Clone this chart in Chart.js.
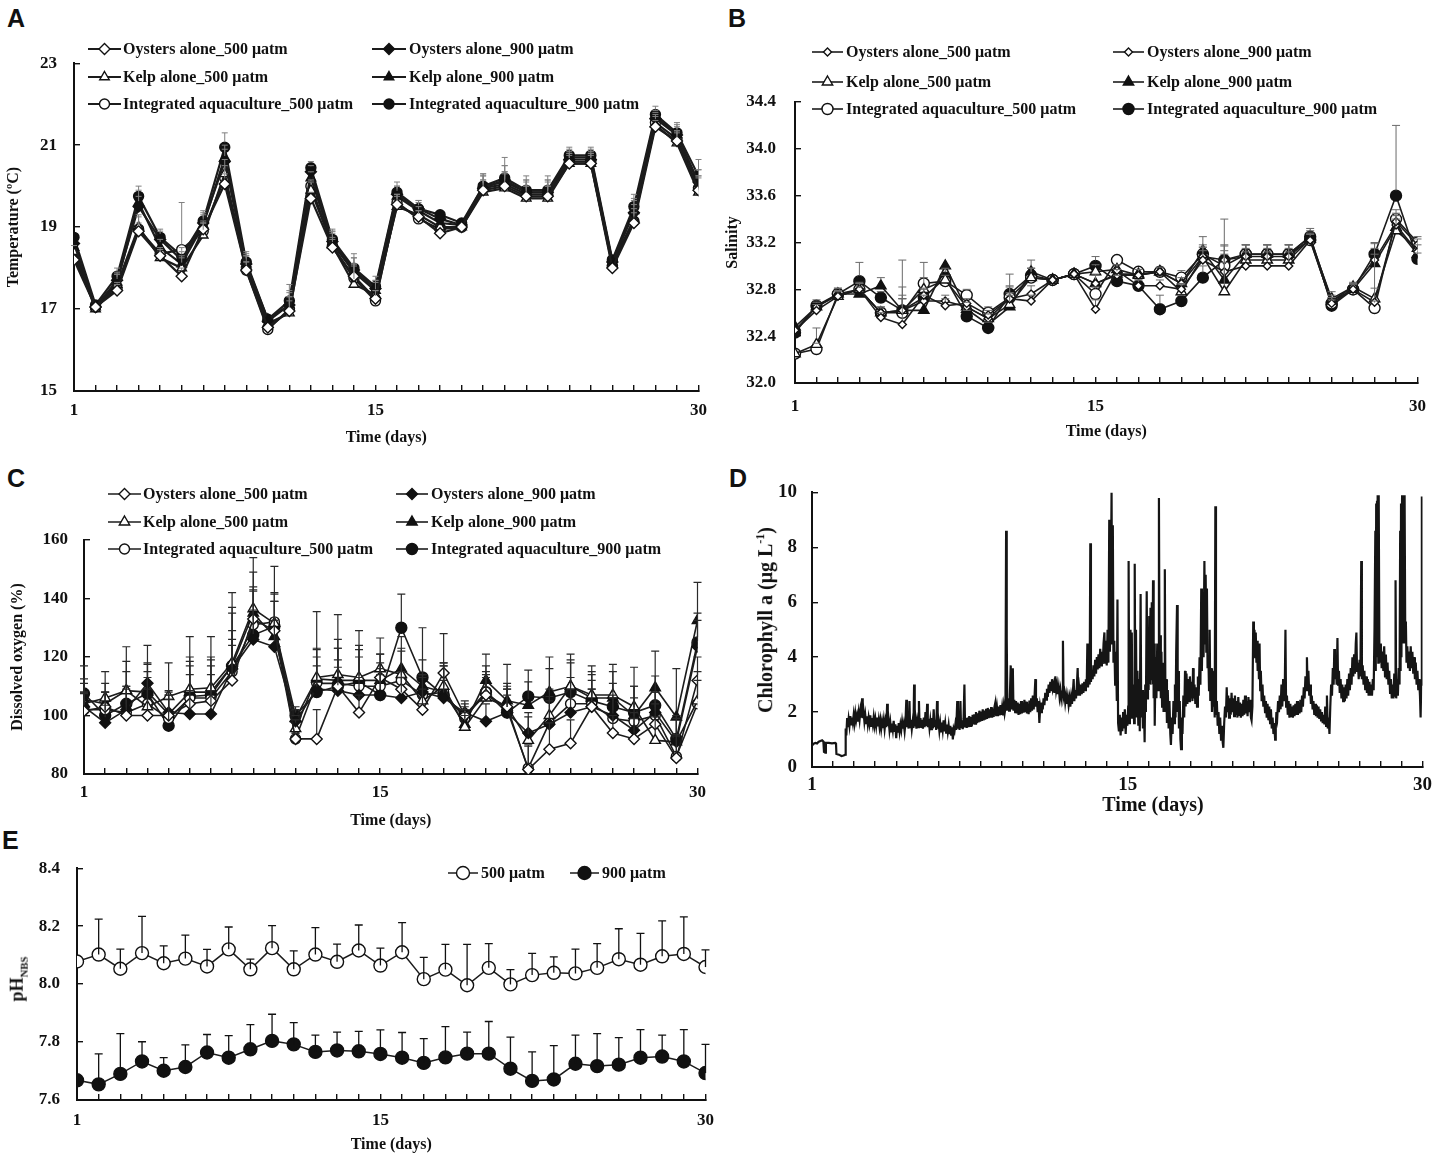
<!DOCTYPE html>
<html>
<head>
<meta charset="utf-8">
<script src="https://cdn.jsdelivr.net/npm/chart.js@4.4.1/dist/chart.umd.min.js"></script>
<style>
  body { margin: 0; width: 1445px; height: 1155px; background: #fff; position: relative; overflow: hidden; }
  canvas { position: absolute; }
  .tag { position: absolute; font: bold 25px "Liberation Sans", Arial, sans-serif; color: #111; }
  .ttl { position: absolute; font-family: "Liberation Serif", serif; font-weight: bold; color: #111; white-space: nowrap;
         transform: translate(-50%, -50%); }
  .rot { transform: translate(-50%, -50%) rotate(-90deg); }
  sub { font-size: 60%; }
  sup { font-size: 60%; }
</style>
</head>
<body>
<div class="tag" style="left:7px;top:4px">A</div>
<div class="tag" style="left:728px;top:4px">B</div>
<div class="tag" style="left:7px;top:464px">C</div>
<div class="tag" style="left:729px;top:464px">D</div>
<div class="tag" style="left:2px;top:826px">E</div>

<canvas id="chartA" width="722" height="420" style="left:0;top:30px"></canvas>
<canvas id="chartB" width="723" height="420" style="left:722px;top:30px"></canvas>
<canvas id="chartC" width="720" height="355" style="left:0;top:480px"></canvas>
<canvas id="chartD" width="705" height="365" style="left:740px;top:460px"></canvas>
<canvas id="chartE" width="730" height="320" style="left:0;top:835px"></canvas>

<div class="ttl rot" style="left:765px;top:620px;font-size:20px">Chlorophyll a (μg L<sup>-1</sup>)</div>
<div class="ttl" style="left:1153px;top:804px;font-size:20px">Time (days)</div>
<div class="ttl rot" style="left:18px;top:979px;font-size:18px">pH<sub>NBS</sub></div>

<script>
// ---- data ----
const days = [1,2,3,4,5,6,7,8,9,10,11,12,13,14,15,16,17,18,19,20,21,22,23,24,25,26,27,28,29,30];
const dayTickShown = [1, 15, 30];

const seriesNames = ["Oysters alone_500 μatm", "Oysters alone_900 μatm", "Kelp alone_500 μatm",
  "Kelp alone_900 μatm", "Integrated aquaculture_500 μatm", "Integrated aquaculture_900 μatm"];
const phNames = ["500 μatm", "900 μatm"];

// A - temperature (ºC)
const tempO500 = [18.2,17.05,17.45,18.9,18.3,17.8,18.95,20.05,17.95,16.55,16.95,19.7,18.5,17.8,17.25,19.55,19.25,18.85,19.0,19.9,20.0,19.75,19.75,20.55,20.55,18.0,19.1,21.45,21.1,19.9];
const tempO900 = [18.6,17.05,17.7,19.5,18.7,18.2,19.1,20.6,18.1,16.7,17.1,20.35,18.65,17.95,17.5,19.8,19.45,19.2,19.05,19.95,20.15,19.85,19.85,20.65,20.65,18.15,19.35,21.65,21.25,20.1];
const tempK500 = [18.4,17.0,17.6,19.0,18.25,18.0,18.8,20.3,18.0,16.65,16.9,19.9,18.55,17.6,17.35,19.5,19.3,19.0,19.0,19.85,19.95,19.7,19.7,20.55,20.55,18.1,19.2,21.5,21.05,19.85];
const tempK900 = [18.5,17.05,17.65,19.6,18.5,18.1,19.05,20.7,18.1,16.75,17.1,20.2,18.6,17.9,17.45,19.75,19.4,19.1,19.05,20.0,20.1,19.85,19.85,20.7,20.7,18.15,19.4,21.7,21.25,20.05];
const tempI500 = [18.3,17.05,17.5,18.95,18.35,18.45,18.9,20.2,17.95,16.5,17.0,20.0,18.55,17.75,17.2,19.6,19.2,18.95,19.0,19.95,20.05,19.8,19.8,20.6,20.6,18.05,19.15,21.55,21.15,19.95];
const tempI900 = [18.75,17.1,17.8,19.75,18.75,18.3,19.15,20.95,18.15,16.75,17.2,20.45,18.7,18.0,17.55,19.85,19.45,19.3,19.1,20.0,20.2,19.9,19.9,20.75,20.75,18.2,19.5,21.75,21.3,20.25];
const tempErrO500 = [0.1,0.05,0.15,0.2,0.15,0.2,0.2,0.25,0.2,0.1,0.25,0.15,0.2,0.3,0.2,0.2,0.15,0.1,0.1,0.25,0.3,0.25,0.25,0.2,0.2,0.1,0.25,0.15,0.2,0.3];
const tempErrO900 = [0.1,0.05,0.2,0.25,0.2,0.2,0.25,0.3,0.2,0.1,0.3,0.15,0.25,0.3,0.2,0.2,0.2,0.1,0.1,0.3,0.35,0.3,0.3,0.2,0.2,0.1,0.3,0.15,0.2,0.3];
const tempErrK500 = [0.15,0.05,0.25,0.3,0.2,0.25,0.3,0.35,0.3,0.1,0.4,0.2,0.3,0.5,0.3,0.3,0.2,0.1,0.1,0.3,0.4,0.3,0.3,0.25,0.25,0.1,0.35,0.2,0.3,0.4];
const tempErrK900 = [0.1,0.05,0.2,0.3,0.2,0.2,0.25,0.3,0.25,0.1,0.35,0.15,0.3,0.35,0.25,0.25,0.2,0.1,0.1,0.3,0.4,0.3,0.3,0.2,0.2,0.1,0.3,0.15,0.25,0.35];
const tempErrI500 = [0.1,0.05,0.15,0.3,0.15,1.15,0.2,0.3,0.2,0.1,0.3,0.15,0.2,0.3,0.25,0.2,0.2,0.1,0.1,0.3,0.3,0.3,0.3,0.2,0.2,0.1,0.3,0.2,0.2,0.3];
const tempErrI900 = [0.1,0.05,0.2,0.25,0.2,0.2,0.25,0.35,0.25,0.1,0.4,0.15,0.25,0.35,0.25,0.25,0.2,0.1,0.1,0.3,0.5,0.35,0.35,0.2,0.2,0.1,0.3,0.2,0.25,0.4];

// B - salinity
const salO500 = [32.45,32.62,32.74,32.80,32.56,32.50,32.75,32.66,32.68,32.58,32.72,32.70,32.88,32.93,32.63,32.96,32.83,32.83,32.80,33.05,32.95,33.00,33.00,33.00,33.22,32.68,32.80,32.69,33.38,33.18];
const salO900 = [32.45,32.65,32.75,32.80,32.60,32.62,32.70,32.70,32.65,32.55,32.72,32.76,32.88,32.93,32.85,32.92,32.92,32.95,32.85,33.08,33.05,33.08,33.08,33.08,33.23,32.70,32.82,33.05,33.35,33.12];
const salK500 = [32.25,32.33,32.74,32.80,32.60,32.62,32.80,32.88,32.65,32.55,32.67,32.90,32.88,32.93,32.95,32.97,32.92,32.95,32.78,33.08,32.78,33.05,33.05,33.05,33.23,32.72,32.82,32.72,33.30,33.15];
const salK900 = [32.48,32.65,32.76,32.76,32.83,32.62,32.62,33.00,32.63,32.50,32.65,32.95,32.88,32.93,32.85,32.93,32.93,32.95,32.85,33.13,32.88,33.10,33.10,33.10,33.25,32.70,32.80,33.02,33.33,33.10];
const salI500 = [32.25,32.29,32.76,32.80,32.60,32.60,32.85,32.87,32.75,32.60,32.73,32.90,32.88,32.93,32.76,33.05,32.95,32.95,32.90,33.10,33.00,33.10,33.10,33.10,33.22,32.68,32.80,32.64,33.40,33.20];
const salI900 = [32.43,32.66,32.76,32.87,32.73,32.62,32.73,32.90,32.57,32.47,32.76,32.92,32.88,32.93,33.00,32.87,32.83,32.63,32.70,32.90,33.05,33.10,33.10,33.10,33.25,32.66,32.80,33.10,33.60,33.06];
const salErrO500 = [0.03,0.05,0.04,0.05,0.04,0.55,0.05,0.06,0.04,0.04,0.05,0.05,0.03,0.03,0.08,0.05,0.05,0.05,0.05,0.08,0.08,0.12,0.12,0.12,0.05,0.05,0.04,0.12,0.05,0.05];
const salErrO900 = [0.03,0.04,0.04,0.05,0.05,0.1,0.05,0.05,0.04,0.04,0.05,0.07,0.03,0.03,0.07,0.05,0.05,0.04,0.05,0.08,0.08,0.1,0.1,0.1,0.05,0.05,0.04,0.1,0.08,0.06];
const salErrK500 = [0.03,0.14,0.05,0.05,0.05,0.2,0.1,0.05,0.05,0.04,0.08,0.08,0.03,0.03,0.06,0.05,0.05,0.04,0.06,0.08,0.62,0.1,0.1,0.1,0.05,0.06,0.04,0.47,0.1,0.05];
const salErrK900 = [0.03,0.05,0.05,0.06,0.07,0.1,0.05,0.05,0.04,0.04,0.28,0.1,0.03,0.03,0.08,0.05,0.05,0.04,0.05,0.12,0.3,0.08,0.08,0.08,0.07,0.05,0.05,0.08,0.12,0.05];
const salErrI500 = [0.03,0.05,0.05,0.06,0.05,0.15,0.18,0.05,0.05,0.05,0.1,0.08,0.03,0.03,0.06,0.04,0.04,0.04,0.06,0.08,0.1,0.08,0.08,0.08,0.05,0.05,0.05,0.06,0.08,0.05];
const salErrI900 = [0.03,0.05,0.05,0.16,0.05,0.1,0.08,0.08,0.05,0.05,0.06,0.06,0.03,0.03,0.08,0.05,0.05,0.12,0.05,0.1,0.12,0.08,0.08,0.08,0.05,0.05,0.05,0.1,0.6,0.05];

// C - dissolved oxygen (%)
const doO500 = [101.5,103,100,100,100,104,105,112,133,129,92,92,110,101,113,109,102,114.5,100,107,103,81.5,88.5,90.5,103,94,92,97,85.5,112];
const doO900 = [103,97.5,102,111,101,100.5,100.5,116,126,123.5,98,109,108.5,107,107,106,108,106,101,98,101,94,97,101,103,100,95,101,91,123.5];
const doK500 = [104,106,108.5,103,106.5,109,109.5,118,136.5,131.5,95.5,113,114,113,116,114,105,110,96,106,103,91.5,100,110,107,107,103,91.5,91,105];
const doK900 = [105.5,104,108.5,108,100.5,108,108,117,135,127,99,112.5,112,112,112,116,110,108,97,112,105,103.5,108,110,106,106,100,109.5,99.5,132.5];
const doI500 = [102,102,101,104,99,106,106,115,131,132,92,111,111,110,110,112,107,108,99,108,102,82,97.5,104,104,99,98,100,86,104];
const doI900 = [107.5,100,104,107.5,96.5,106.5,107,117,127.5,130.5,100,108,110,111.5,107,130,113,107,100,108,101,106.5,106,108,105,103,101,103.5,92,125];
const doErrO500 = [6,5,9,9,7,10,9,12,11,10,2,10,9,6,8,6,7,13.5,3,6,6,8,9,8,6,6,7,7,8,8];
const doErrO900 = [5,6,8,13,7,8,8,10,10,9,2,8,8,6,7,7,6,6,3,6,6,7,8,8,6,6,6,7,8,9];
const doErrK500 = [7,9,10,12,11.5,18,17.5,24,17.5,19.5,3,22.5,20.5,16,10.5,9,8,8,4,8,7,8,9,9,10,10.5,13.5,8,9,10];
const doErrK900 = [7,7,15,10,8,12,12,20,14,12,3,10,14,12,9,11,9,10,4,9,12.5,8,12,11,9,9,10,12.5,16.5,13];
const doErrI500 = [6,6,9,9,8,11,11,14,12,10,2,12,12,10,8,10,7,9,3,7,7,8,9,9,8,8,8,8,7,8];
const doErrI900 = [9.5,8,11,10,9,12,12,18,15,11,3,12,13,11,9,11.5,17,10,5,9,10,9,10,10,9,8,9,10,8,10];

// D - chlorophyll a trace [day, µg/L]; tick labels as printed under the axis
const chlTickPos = [1, 16, 30];
const chlTickText = ["1", "15", "30"];
const chlTrace = [
[1.00,0.78],[1.08,0.85],[1.16,0.88],[1.24,0.86],[1.32,0.92],[1.40,0.95],[1.48,0.97],[1.54,0.93],[1.57,0.55],[1.63,0.52],[1.66,0.88],[1.80,0.88],[1.95,0.86],[2.10,0.88],[2.14,0.85],[2.16,0.48],[2.28,0.45],[2.40,0.40],[2.50,0.42],[2.58,0.45],
[2.60,1.40],[2.63,1.15],[2.67,1.78],[2.70,1.45],[2.74,1.75],[2.78,1.50],[2.82,1.85],[2.86,1.55],[2.90,1.80],[2.94,1.60],[2.98,1.90],[3.02,1.62],[3.06,1.95],[3.10,1.70],[3.14,1.88],[3.18,1.65],[3.22,1.98],[3.26,1.72],[3.30,2.05],[3.34,1.80],[3.38,2.50],[3.41,1.78],[3.45,2.00],[3.49,1.65],[3.53,1.90],[3.57,1.60],[3.61,1.85],[3.65,1.55],[3.69,1.80],[3.73,1.58],[3.77,1.88],[3.81,1.50],[3.85,1.78],[3.89,1.55],[3.93,1.82],[3.97,1.52],[4.01,1.75],[4.05,1.50],[4.09,1.80],[4.13,1.48],[4.17,1.72],[4.21,1.45],[4.25,1.70],[4.29,1.40],[4.33,1.65],[4.37,1.42],[4.41,1.70],[4.45,1.38],[4.49,1.66],[4.53,1.45],[4.57,2.30],[4.60,1.50],[4.64,1.70],[4.68,1.35],[4.72,1.62],[4.76,1.30],[4.80,1.58],[4.84,1.35],[4.88,1.68],[4.92,1.28],[4.96,1.55],[5.00,1.05],[5.04,1.50],[5.08,1.25],[5.12,1.60],[5.16,1.30],[5.20,1.55],[5.24,1.35],[5.28,1.65],[5.32,1.40],[5.36,1.58],[5.40,1.30],[5.44,1.62],
[5.48,2.45],[5.51,1.45],[5.55,1.70],[5.59,1.40],[5.63,2.40],[5.66,1.45],[5.70,1.72],[5.74,1.38],[5.78,1.65],[5.82,1.42],[5.85,3.00],[5.88,1.48],[5.92,1.75],[5.96,1.40],[6.00,1.68],[6.04,1.45],[6.08,2.40],[6.11,1.50],[6.15,1.78],[6.19,1.42],[6.23,1.72],[6.27,1.40],[6.31,1.80],[6.35,1.45],[6.39,2.00],[6.43,1.50],[6.47,2.30],[6.50,1.45],[6.54,1.75],[6.58,1.42],[6.62,1.70],[6.66,1.38],[6.70,1.78],[6.74,1.40],[6.78,2.10],[6.82,1.45],[6.86,1.72],[6.90,1.35],[6.94,2.40],[6.97,1.40],[7.01,1.65],[7.05,1.32],[7.09,1.60],[7.13,1.30],[7.17,1.62],[7.21,1.35],[7.25,1.70],[7.29,1.30],[7.33,1.58],[7.37,1.25],[7.41,1.55],[7.45,1.28],[7.49,1.52],[7.53,1.20],[7.57,1.50],[7.61,1.18],[7.65,1.45],[7.69,1.00],[7.73,1.40],[7.77,1.30],[7.81,1.55],[7.85,1.35],
[7.90,2.40],[7.93,1.40],[7.97,1.68],[8.01,1.35],[8.05,2.40],[8.08,1.45],[8.12,1.70],[8.16,1.38],[8.20,1.75],[8.24,3.00],[8.27,1.48],[8.31,1.78],[8.35,1.42],[8.39,1.80],[8.43,1.45],[8.47,1.85],[8.51,1.50],[8.55,1.82],[8.59,1.48],[8.63,1.90],[8.67,1.55],[8.71,1.92],[8.75,1.58],[8.79,2.00],[8.83,1.60],[8.87,1.95],[8.91,1.62],[8.95,2.05],[8.99,1.65],[9.03,2.02],[9.07,1.68],[9.11,2.10],[9.15,1.70],[9.19,2.05],[9.23,1.72],[9.27,2.12],[9.31,1.75],[9.35,2.15],[9.39,1.78],[9.43,2.10],[9.47,1.80],[9.51,2.18],[9.55,1.80],[9.59,2.12],[9.63,1.82],[9.67,2.20],[9.71,2.35],[9.75,1.85],[9.79,2.15],[9.83,1.85],[9.87,2.20],[9.91,1.88],[9.95,2.25],[9.99,1.90],[10.03,2.18],[10.07,1.88],[10.11,2.22],[10.15,1.95],[10.19,2.15],
[10.22,8.60],[10.24,2.05],[10.26,4.70],[10.28,2.10],[10.32,2.50],[10.36,2.05],[10.40,2.60],[10.44,3.70],[10.47,2.10],[10.51,2.50],[10.54,3.60],[10.57,2.05],[10.61,2.45],[10.65,2.00],[10.69,2.40],[10.73,1.95],[10.77,2.35],[10.81,1.90],[10.85,2.30],[10.89,1.92],[10.93,2.40],[10.97,1.95],[11.01,2.35],[11.05,1.98],[11.09,2.45],[11.13,2.00],[11.17,2.38],[11.21,1.95],[11.25,2.30],[11.29,1.92],[11.33,2.42],[11.37,2.00],[11.41,2.50],[11.45,2.05],[11.49,2.60],[11.53,2.10],[11.57,2.55],[11.61,3.20],[11.64,2.20],[11.68,2.50],[11.72,2.00],[11.76,2.40],[11.80,1.60],[11.84,2.20],[11.88,2.00],[11.92,2.35],[11.96,2.10],[12.00,2.50],[12.04,2.25],[12.08,2.70],[12.12,2.45],[12.16,2.85],[12.20,2.55],[12.24,3.00],[12.28,2.70],[12.32,3.10],[12.36,2.80],[12.40,3.20],[12.44,2.85],[12.48,3.00],[12.52,2.70],[12.56,3.30],[12.60,2.80],[12.64,3.00],[12.68,2.65],[12.72,2.90],[12.76,2.55],[12.80,2.80],[12.84,2.50],[12.88,2.75],[12.92,4.60],[12.95,2.55],[12.99,2.70],[13.03,2.35],[13.07,2.60],[13.11,2.30],[13.15,2.55],[13.19,2.25],[13.23,2.50],[13.27,2.20],[13.31,2.55],[13.35,2.30],[13.39,2.70],[13.43,3.20],[13.46,2.40],[13.50,2.80],[13.54,2.50],[13.58,2.95],[13.62,3.60],[13.65,2.60],[13.69,2.90],[13.73,2.60],[13.77,3.00],[13.81,2.65],[13.85,3.05],[13.89,2.70],[13.93,3.10],[13.97,2.80],[14.01,3.20],[14.05,2.90],[14.08,4.50],[14.11,2.90],[14.15,3.30],[14.19,3.00],[14.22,8.15],[14.25,3.10],[14.29,3.50],[14.33,3.20],[14.37,3.70],[14.41,3.30],[14.45,3.90],[14.49,3.40],[14.53,4.00],[14.57,3.55],[14.61,4.10],[14.65,3.60],[14.69,4.30],[14.73,3.70],[14.77,4.20],[14.81,3.75],[14.85,4.50],[14.89,4.90],[14.92,3.80],[14.96,4.60],[15.00,3.70],[15.04,5.00],[15.08,3.80],[15.12,9.00],[15.15,4.20],[15.19,6.00],[15.23,10.00],[15.26,4.50],[15.29,8.80],[15.32,3.80],[15.36,4.60],[15.40,3.00],[15.44,4.20],[15.48,2.40],[15.51,6.10],[15.54,1.60],[15.58,1.30],[15.62,1.90],[15.66,1.15],[15.70,1.80],[15.74,1.30],[15.78,2.00],[15.82,1.40],[15.86,2.10],[15.90,1.20],[15.94,1.90],[15.98,1.50],[16.02,2.20],[16.04,7.50],[16.07,1.60],
[16.10,2.40],[16.13,5.00],[16.16,1.80],[16.19,4.90],[16.22,2.20],[16.26,3.00],[16.30,1.60],[16.33,7.40],[16.36,2.00],[16.39,5.00],[16.42,1.80],[16.46,3.50],[16.50,1.50],[16.54,3.20],[16.57,1.30],[16.61,6.30],[16.64,1.80],[16.68,2.80],[16.72,1.40],[16.76,2.50],[16.80,0.90],[16.83,3.00],[16.86,2.00],[16.90,6.40],[16.93,2.50],[16.96,5.00],[16.99,2.80],[17.02,5.50],[17.05,3.00],[17.08,5.80],[17.11,3.20],[17.14,6.00],[17.17,3.00],[17.20,6.80],[17.23,2.50],[17.26,4.50],[17.28,1.50],[17.32,4.00],[17.36,2.50],[17.40,4.50],[17.44,2.80],[17.48,9.80],[17.51,3.00],[17.54,4.80],[17.57,2.50],[17.60,4.20],[17.63,2.20],[17.66,3.80],[17.70,2.00],[17.73,3.50],[17.76,7.20],[17.79,2.00],[17.82,3.20],[17.86,1.60],[17.90,2.80],[17.94,1.40],[17.98,2.40],[18.02,1.20],[18.05,0.80],[18.09,1.80],[18.13,1.20],[18.17,2.40],[18.21,1.60],[18.24,3.00],[18.27,1.80],[18.30,4.20],[18.34,5.90],[18.37,2.00],[18.40,3.50],[18.43,1.40],[18.47,2.40],[18.50,1.00],[18.53,0.65],[18.57,1.80],[18.60,1.20],[18.64,2.60],[18.68,1.80],[18.72,3.50],[18.75,2.20],[18.79,3.40],[18.83,2.30],[18.87,3.20],[18.91,2.40],[18.95,3.30],[18.99,2.50],[19.03,3.10],[19.07,2.40],[19.10,3.60],[19.13,2.50],[19.17,3.00],[19.21,2.30],[19.25,2.90],[19.29,2.20],[19.33,3.30],[19.37,2.60],[19.41,4.00],[19.45,3.00],[19.49,6.50],[19.52,3.50],[19.56,5.80],[19.60,4.00],[19.64,7.50],[19.67,4.50],[19.70,7.00],[19.73,4.20],[19.76,6.50],[19.79,3.60],[19.83,4.00],[19.86,2.80],[19.89,5.00],[19.92,2.40],[19.96,3.60],[20.00,2.00],[20.03,3.50],[20.06,2.20],[20.10,2.80],[20.13,1.80],[20.16,9.50],[20.19,1.90],[20.23,2.40],[20.27,1.50],[20.31,2.00],[20.35,1.20],[20.39,1.80],[20.43,1.00],[20.47,1.50],[20.51,0.90],[20.54,0.70],[20.58,1.60],[20.62,2.20],[20.66,1.80],[20.70,2.90],[20.73,2.00],[20.77,2.60],[20.81,1.80],[20.85,2.50],[20.89,1.90],[20.93,2.70],[20.97,2.00],[21.01,2.50],[21.05,1.85],[21.09,2.60],[21.13,1.90],[21.17,2.40],[21.21,1.80],[21.25,2.55],[21.29,1.90],[21.33,2.35],[21.37,1.80],[21.41,2.30],[21.45,1.85],[21.49,2.45],[21.53,1.90],[21.57,2.60],[21.61,1.95],[21.65,2.40],[21.69,1.85],[21.73,2.55],[21.77,2.00],[21.81,2.45],[21.85,1.80],[21.88,1.70],
[21.92,2.20],[21.96,5.30],[21.99,4.50],[22.02,5.00],[22.05,4.00],[22.08,4.90],[22.11,3.80],[22.14,4.60],[22.17,3.50],[22.20,4.40],[22.23,3.20],[22.26,4.50],[22.29,2.80],[22.32,3.50],[22.36,2.40],[22.40,3.00],[22.44,2.20],[22.48,2.60],[22.52,2.00],[22.56,2.40],[22.60,1.80],[22.64,2.30],[22.68,1.70],[22.72,2.20],[22.76,1.60],[22.80,2.10],[22.84,1.40],[22.88,1.80],[22.92,1.20],[22.96,1.60],[23.00,1.00],[23.03,1.40],[23.06,2.00],[23.10,1.80],[23.14,2.40],[23.18,2.00],[23.22,2.60],[23.26,2.10],[23.30,3.00],[23.34,2.20],[23.38,3.20],[23.42,2.40],[23.46,3.00],[23.49,5.00],[23.52,2.20],[23.56,2.60],[23.60,1.90],[23.64,2.40],[23.68,1.80],[23.72,2.30],[23.76,1.85],[23.80,2.20],[23.84,1.80],[23.88,2.25],[23.92,1.85],[23.96,2.30],[24.00,1.90],[24.04,2.40],[24.08,1.90],[24.12,2.35],[24.16,1.95],[24.20,2.45],[24.24,2.00],[24.28,2.60],[24.32,2.20],[24.36,2.90],[24.40,2.50],[24.44,3.30],[24.48,2.80],[24.51,4.00],[24.54,3.00],[24.58,3.50],[24.62,2.60],[24.66,3.00],[24.70,2.30],[24.74,2.60],[24.78,2.10],[24.82,2.40],[24.86,1.90],[24.90,2.30],[24.94,1.85],[24.98,2.25],[25.02,1.80],[25.06,2.20],[25.10,1.75],[25.14,2.10],[25.18,1.70],[25.22,2.00],[25.26,1.60],[25.30,1.90],[25.34,1.55],[25.38,2.20],[25.42,1.50],[25.46,2.60],[25.50,1.40],[25.54,1.80],[25.58,1.20],[25.62,2.20],
[25.66,3.00],[25.70,2.60],[25.74,3.60],[25.78,3.00],[25.81,4.30],[25.84,3.20],[25.88,4.00],[25.92,3.00],[25.96,4.70],[25.99,3.00],[26.03,3.50],[26.07,2.70],[26.11,3.20],[26.15,2.50],[26.19,3.00],[26.23,2.40],[26.27,2.90],[26.31,2.40],[26.35,3.00],[26.39,2.50],[26.43,3.20],[26.47,2.60],[26.51,3.40],[26.55,2.80],[26.59,3.60],[26.63,3.00],[26.67,4.00],[26.71,3.30],[26.75,4.10],[26.79,3.40],[26.83,4.50],[26.86,4.90],[26.89,3.50],[26.93,3.80],[26.97,3.20],[27.01,3.90],[27.05,3.30],[27.09,7.50],[27.12,3.20],[27.16,3.70],[27.20,3.00],[27.24,3.50],[27.28,2.80],[27.32,3.30],[27.36,2.70],[27.40,3.20],[27.44,2.60],[27.48,3.10],[27.52,2.60],[27.56,3.00],[27.60,2.60],[27.64,3.20],[27.68,2.80],[27.72,5.00],[27.76,8.60],[27.78,3.50],[27.80,9.60],[27.82,4.00],[27.84,9.70],[27.86,4.20],[27.88,9.90],[27.90,3.80],[27.92,9.90],[27.95,4.50],[27.98,3.80],[28.02,4.50],[28.06,3.60],[28.10,4.20],[28.14,3.50],[28.18,4.40],[28.22,3.30],[28.26,4.10],[28.30,3.20],[28.34,3.80],[28.38,3.00],[28.42,3.50],[28.46,2.70],[28.50,3.20],[28.54,2.50],[28.58,3.00],[28.62,2.50],[28.66,3.40],[28.70,2.60],[28.72,6.80],[28.75,2.50],[28.79,3.20],[28.83,2.60],[28.87,3.60],[28.91,3.00],[28.94,8.60],[28.96,3.50],[28.98,9.60],[29.00,4.00],[29.03,9.90],[29.06,4.50],[29.09,9.90],[29.12,4.50],[29.15,9.90],[29.18,4.80],[29.21,5.30],[29.24,3.80],[29.28,4.40],[29.32,3.60],[29.36,4.20],[29.40,3.50],[29.44,4.40],[29.48,3.60],[29.52,4.20],[29.56,3.40],[29.60,4.00],[29.64,3.20],[29.68,3.80],[29.72,3.00],[29.76,3.50],[29.80,2.80],[29.84,3.20],[29.88,2.60],[29.91,1.80],[29.94,3.00],[29.97,9.85],[30.00,3.00]
];

// E - pH (NBS)
const ph500 = [8.078,8.102,8.053,8.107,8.072,8.088,8.061,8.120,8.051,8.124,8.051,8.102,8.077,8.116,8.064,8.110,8.017,8.050,7.996,8.056,7.999,8.031,8.039,8.037,8.056,8.086,8.067,8.096,8.104,8.059];
const ph900 = [7.668,7.654,7.690,7.733,7.701,7.714,7.764,7.746,7.775,7.804,7.792,7.766,7.771,7.768,7.759,7.746,7.728,7.747,7.760,7.760,7.708,7.666,7.671,7.725,7.717,7.722,7.746,7.750,7.733,7.693];
const phErr500 = [0,0.122,0.068,0.127,0.060,0.081,0.059,0.077,0.035,0.078,0.064,0.093,0.061,0.088,0.060,0.102,0.075,0.087,0.141,0.084,0.051,0.075,0.055,0.084,0.084,0.105,0.108,0.122,0.128,0.059];
const phErr900 = [0,0.105,0.139,0.068,0.045,0.076,0.062,0.076,0.085,0.092,0.075,0.058,0.063,0.069,0.083,0.087,0.084,0.106,0.074,0.111,0.109,0.100,0.117,0.099,0.112,0.093,0.097,0.074,0.110,0.099];

// ---- helpers ----
Chart.defaults.font.family = '"Liberation Serif", "Times New Roman", serif';
const INK = "#111";

function drawMark(ctx, shape, x, y, r, fill) {
  ctx.beginPath();
  if (shape === "circle") {
    ctx.arc(x, y, r, 0, Math.PI * 2);
  } else if (shape === "triangle") {
    ctx.moveTo(x, y - r);
    ctx.lineTo(x + r * 0.866, y + r * 0.5);
    ctx.lineTo(x - r * 0.866, y + r * 0.5);
    ctx.closePath();
  } else {
    ctx.moveTo(x - r, y); ctx.lineTo(x, y - r); ctx.lineTo(x + r, y); ctx.lineTo(x, y + r);
    ctx.closePath();
  }
  ctx.fillStyle = fill;
  ctx.fill();
  ctx.stroke();
}

// upward error bars, drawn from each point through the y scale
const errorBars = {
  id: "errorBars",
  afterDatasetsDraw(chart, args, o) {
    const ctx = chart.ctx, yScale = chart.scales.y;
    ctx.save();
    ctx.strokeStyle = o.color;
    ctx.lineWidth = o.width;
    chart.data.datasets.forEach((ds, i) => {
      if (!ds.errorBars) return;
      chart.getDatasetMeta(i).data.forEach((pt, j) => {
        const e = ds.errorBars[j];
        if (!e) return;
        const top = yScale.getPixelForValue(ds.data[j] + e);
        const start = o.fromCenter ? pt.y : pt.y - ds.pointRadius;
        if (top >= start) return;
        ctx.beginPath();
        ctx.moveTo(pt.x, start); ctx.lineTo(pt.x, top);
        ctx.moveTo(pt.x - o.cap, top); ctx.lineTo(pt.x + o.cap, top);
        ctx.stroke();
      });
    });
    ctx.restore();
  }
};

// legend laid out in fixed columns / rows like the original figure
const slotLegend = {
  id: "slotLegend",
  afterDraw(chart, args, o) {
    if (!o.rows) return;
    const ctx = chart.ctx;
    ctx.save();
    ctx.font = o.textFont;
    ctx.textBaseline = "middle";
    chart.data.datasets.forEach((ds, i) => {
      const col = o.cols[i % o.cols.length];
      const y = o.rows[Math.floor(i / o.cols.length)];
      ctx.strokeStyle = ds.borderColor;
      ctx.lineWidth = ds.borderWidth;
      ctx.beginPath(); ctx.moveTo(col[0], y); ctx.lineTo(col[1], y); ctx.stroke();
      ctx.lineWidth = ds.pointBorderWidth;
      ctx.strokeStyle = ds.pointBorderColor;
      drawMark(ctx, ds.pointStyle, (col[0] + col[1]) / 2, y, ds.pointRadius, ds.pointBackgroundColor);
      ctx.fillStyle = INK;
      ctx.fillText(ds.label, col[2], y + 1);
    });
    ctx.restore();
  }
};

function makeSet(label, data, errors, shape, filled, radius, lineWidth) {
  return {
    label, data, errorBars: errors,
    pointStyle: shape, pointRadius: radius,
    pointBackgroundColor: filled ? INK : "#fff",
    pointBorderColor: INK, pointBorderWidth: 1.4,
    borderColor: "#1c1c1c", borderWidth: lineWidth,
    tension: 0, fill: false
  };
}

function tickFont(size) {
  return { family: Chart.defaults.font.family, weight: "bold", size: size };
}

function axisGrid() {
  return { display: true, drawOnChartArea: false, drawTicks: true, tickLength: -6, color: INK, lineWidth: 1.4 };
}

function buildPanel(id, p) {
  return new Chart(document.getElementById(id), {
    type: "line",
    data: { labels: p.labels, datasets: p.sets },
    options: {
      responsive: false,
      animation: false,
      events: [],
      layout: { padding: p.pad },
      plugins: {
        legend: { display: false },
        tooltip: { enabled: false },
        errorBars: p.err || {},
        slotLegend: p.legend || {}
      },
      scales: {
        x: {
          type: "linear", min: 1, max: 30,
          grid: axisGrid(),
          border: { display: true, color: INK, width: 2 },
          ticks: { stepSize: 1, autoSkip: false, maxRotation: 0, padding: p.xTickPad,
                   font: tickFont(p.tickSize), color: INK, callback: p.xLabel },
          title: p.xTitle
            ? { display: true, text: "Time (days)", color: INK, font: tickFont(16), padding: { top: 0, bottom: p.xTitlePad } }
            : { display: false },
          afterFit: (s) => { s.height = p.xh; }
        },
        y: {
          min: p.yMin, max: p.yMax,
          grid: axisGrid(),
          border: { display: true, color: INK, width: 2 },
          ticks: { stepSize: p.yStep, padding: p.yTickPad, font: tickFont(p.tickSize), color: INK,
                   callback: p.yFmt },
          title: p.yTitle
            ? { display: true, text: p.yTitle, color: INK, font: tickFont(16), padding: { top: p.yTitlePad, bottom: 0 } }
            : { display: false },
          afterFit: (s) => { s.width = p.yw; }
        }
      }
    },
    plugins: [errorBars, slotLegend]
  });
}

const dayLabel = (v) => dayTickShown.includes(v) ? String(v) : "";
const legendFont = 'bold 16px "Liberation Serif", serif';

// ---- A: temperature ----
buildPanel("chartA", {
  labels: days,
  sets: [
    makeSet(seriesNames[0], tempO500, tempErrO500, "rectRot", false, 5.5, 2.2),
    makeSet(seriesNames[1], tempO900, tempErrO900, "rectRot", true, 5.5, 2.2),
    makeSet(seriesNames[2], tempK500, tempErrK500, "triangle", false, 5.5, 2.2),
    makeSet(seriesNames[3], tempK900, tempErrK900, "triangle", true, 5.5, 2.2),
    makeSet(seriesNames[4], tempI500, tempErrI500, "circle", false, 5, 2.2),
    makeSet(seriesNames[5], tempI900, tempErrI900, "circle", true, 5, 2.2)
  ],
  pad: { left: 0, top: 32, right: 20, bottom: 0 },
  yw: 74, xh: 59,
  yMin: 15, yMax: 23, yStep: 2, yFmt: (v) => String(v), yTickPad: 23,
  xLabel: dayLabel, xTickPad: 15, tickSize: 17,
  xTitle: true, xTitlePad: 3,
  yTitle: "Temperature (ºC)", yTitlePad: 4,
  err: { color: "#808080", width: 1, cap: 3 },
  legend: { textFont: legendFont, rows: [19, 47, 74], cols: [[88, 121, 123], [372, 406, 409]] }
});

// ---- B: salinity ----
buildPanel("chartB", {
  labels: days,
  sets: [
    makeSet(seriesNames[0], salO500, salErrO500, "rectRot", false, 4, 1.6),
    makeSet(seriesNames[1], salO900, salErrO900, "rectRot", false, 4, 1.6),
    makeSet(seriesNames[2], salK500, salErrK500, "triangle", false, 6, 1.6),
    makeSet(seriesNames[3], salK900, salErrK900, "triangle", true, 6, 1.6),
    makeSet(seriesNames[4], salI500, salErrI500, "circle", false, 5.5, 1.6),
    makeSet(seriesNames[5], salI900, salErrI900, "circle", true, 5.5, 1.6)
  ],
  pad: { left: 0, top: 72, right: 18, bottom: 0 },
  yw: 73, xh: 67,
  yMin: 32.0, yMax: 34.4, yStep: 0.4, yFmt: (v) => v.toFixed(1), yTickPad: 25,
  xLabel: dayLabel, xTickPad: 19, tickSize: 17,
  xTitle: true, xTitlePad: 9,
  yTitle: "Salinity", yTitlePad: 1.5,
  err: { color: "#6a6a6a", width: 1, cap: 4 },
  legend: { textFont: legendFont, rows: [22, 52, 79], cols: [[90, 121, 124], [391, 422, 425]] }
});

// ---- C: dissolved oxygen ----
buildPanel("chartC", {
  labels: days,
  sets: [
    makeSet(seriesNames[0], doO500, doErrO500, "rectRot", false, 5.5, 1.6),
    makeSet(seriesNames[1], doO900, doErrO900, "rectRot", true, 5.5, 1.6),
    makeSet(seriesNames[2], doK500, doErrK500, "triangle", false, 6, 1.6),
    makeSet(seriesNames[3], doK900, doErrK900, "triangle", true, 6, 1.6),
    makeSet(seriesNames[4], doI500, doErrI500, "circle", false, 5, 1.6),
    makeSet(seriesNames[5], doI900, doErrI900, "circle", true, 5.5, 1.6)
  ],
  pad: { left: 0, top: 60, right: 22, bottom: 0 },
  yw: 84, xh: 61,
  yMin: 80, yMax: 160, yStep: 20, yFmt: (v) => String(v), yTickPad: 22,
  xLabel: dayLabel, xTickPad: 14, tickSize: 17,
  xTitle: true, xTitlePad: 5,
  yTitle: "Dissolved oxygen (%)", yTitlePad: 8,
  err: { color: "#2a2a2a", width: 1.2, cap: 4 },
  legend: { textFont: legendFont, rows: [14, 42, 69], cols: [[108, 141, 143], [396, 428, 431]] }
});

// ---- D: chlorophyll a ----
new Chart(document.getElementById("chartD"), {
  type: "line",
  data: {
    datasets: [{
      label: "Chlorophyll a",
      data: chlTrace.map(([x, y]) => ({ x, y })),
      borderColor: "#151515", borderWidth: 2.2, pointRadius: 0, tension: 0, fill: false
    }]
  },
  options: {
    responsive: false,
    animation: false,
    events: [],
    layout: { padding: { left: 0, top: 14, right: 12, bottom: 0 } },
    plugins: { legend: { display: false }, tooltip: { enabled: false } },
    scales: {
      x: {
        type: "linear", min: 1, max: 30,
        grid: axisGrid(),
        border: { display: true, color: INK, width: 2 },
        ticks: { stepSize: 1, autoSkip: false, maxRotation: 0, padding: 13, font: tickFont(19), color: INK,
                 callback: (v) => { const k = chlTickPos.indexOf(v); return k >= 0 ? chlTickText[k] : ""; } },
        afterFit: (s) => { s.height = 58; }
      },
      y: {
        min: 0, max: 10,
        grid: axisGrid(),
        border: { display: true, color: INK, width: 2 },
        ticks: { stepSize: 2, padding: 21, font: tickFont(19), color: INK },
        afterFit: (s) => { s.width = 72; }
      }
    }
  }
});

// ---- E: pH ----
buildPanel("chartE", {
  labels: days,
  sets: [
    makeSet(phNames[0], ph500, phErr500, "circle", false, 6.5, 1.5),
    makeSet(phNames[1], ph900, phErr900, "circle", true, 6.5, 1.5)
  ],
  pad: { left: 0, top: 22, right: 20, bottom: 0 },
  yw: 77, xh: 55,
  yMin: 7.6, yMax: 8.4, yStep: 0.2, yFmt: (v) => v.toFixed(1), yTickPad: 23,
  xLabel: dayLabel, xTickPad: 16, tickSize: 17,
  xTitle: true, xTitlePad: 0.5,
  yTitle: null,
  err: { color: INK, width: 1.3, cap: 4, fromCenter: true },
  legend: { textFont: legendFont, rows: [38], cols: [[448, 478, 481], [570, 599, 602]] }
});
</script>
</body>
</html>
